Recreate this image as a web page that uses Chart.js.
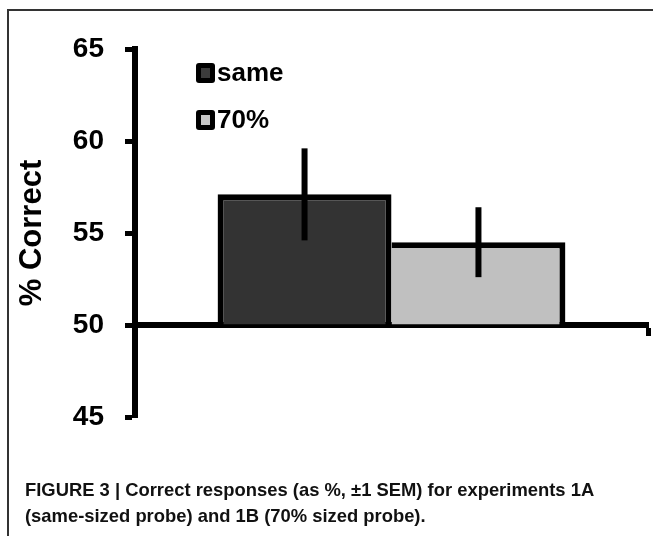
<!DOCTYPE html>
<html>
<head>
<meta charset="utf-8">
<script src="https://cdn.jsdelivr.net/npm/chart.js@4.4.1/dist/chart.umd.min.js"></script>
<style>
  html, body { margin: 0; padding: 0; background: #fff; }
  #wrap { position: relative; width: 653px; height: 536px; overflow: hidden; }
  #frame { position: absolute; left: 7px; top: 9px; right: -10px; bottom: -10px;
           border-left: 2px solid #333; border-top: 2px solid #333; }
  #chartBox { position: absolute; left: 0; top: 0; width: 653px; height: 536px; }
  #caption { position: absolute; left: 25px; top: 477px; white-space: nowrap;
             font-family: "Liberation Sans", Arial, sans-serif;
             font-weight: bold; font-size: 18.4px; line-height: 26px; color: #111; }
</style>
</head>
<body>
<div id="wrap">
  <div id="frame"></div>
  <div id="chartBox"><canvas id="probeChart"></canvas></div>
  <div id="caption">FIGURE 3 | Correct responses (as %, ±1 SEM) for experiments 1A<br>(same-sized probe) and 1B (70% sized probe).</div>
</div>
<script>
// values
const categories = [''];
const seriesLabels = ['same', '70%'];
const sameValues = [57.1];
const sizedValues = [54.5];
const sameSem = [2.5];
const sizedSem = [1.9];
const yTicks = [45, 50, 55, 60, 65];

const semBySeries = [sameSem, sizedSem];
const meanBySeries = [sameValues, sizedValues];

// vertical SEM lines, no caps
const errorBars = {
  id: 'errorBars',
  afterDatasetsDraw(chart) {
    const ctx = chart.ctx;
    const y = chart.scales.y;
    ctx.save();
    ctx.strokeStyle = '#000';
    ctx.lineWidth = 6;
    chart.data.datasets.forEach((ds, i) => {
      chart.getDatasetMeta(i).data.forEach((bar, j) => {
        const m = meanBySeries[i][j], s = semBySeries[i][j];
        ctx.beginPath();
        ctx.moveTo(bar.x, y.getPixelForValue(m + s));
        ctx.lineTo(bar.x, y.getPixelForValue(m - s));
        ctx.stroke();
      });
    });
    ctx.restore();
  }
};

// legend in the upper left of the plot
const boxLegend = {
  id: 'boxLegend',
  afterDraw(chart) {
    const ctx = chart.ctx;
    ctx.save();
    ctx.font = 'bold 26px "Liberation Sans", Arial, sans-serif';
    ctx.textBaseline = 'middle';
    chart.data.datasets.forEach((ds, i) => {
      const cy = 73 + i * 47;
      ctx.fillStyle = '#000';
      ctx.beginPath();
      ctx.roundRect(196, cy - 10, 19, 20, 3);
      ctx.fill();
      ctx.fillStyle = i === 0 ? '#3c3c3c' : '#c8c8c8';
      ctx.fillRect(201, cy - 5, 9, 10);
      ctx.fillStyle = '#000';
      ctx.fillText(ds.label, 217, cy + 1);
    });
    ctx.restore();
  }
};

new Chart(document.getElementById('probeChart'), {
  type: 'bar',
  data: {
    labels: categories,
    datasets: [{
      label: seriesLabels[0],
      data: sameValues,
      base: 50,
      backgroundColor: '#333333',
      borderColor: '#000',
      borderWidth: 6,
      borderSkipped: 'start'
    }, {
      label: seriesLabels[1],
      data: sizedValues,
      base: 50,
      backgroundColor: '#c0c0c0',
      borderColor: '#000',
      borderWidth: { top: 6, right: 6, bottom: 0, left: 0 },
      borderSkipped: 'start'
    }]
  },
  options: {
    responsive: true,
    maintainAspectRatio: false,
    animation: false,
    layout: { padding: { top: 49, right: 5, bottom: 119, left: 0 } },
    categoryPercentage: 0.678,
    barPercentage: 1,
    plugins: { legend: { display: false }, tooltip: { enabled: false } },
    scales: {
      x: {
        position: { y: 50 },
        offset: true,
        ticks: { display: false },
        grid: { drawOnChartArea: false, drawTicks: true, tickLength: 8, tickWidth: 5, tickColor: '#000', offset: true },
        border: { display: true, width: 6, color: '#000' }
      },
      y: {
        min: 45,
        max: 65,
        afterBuildTicks(scale) { scale.ticks = yTicks.map(v => ({ value: v })); },
        afterFit(scale) { scale.width = 135; },
        ticks: {
          color: '#000',
          padding: 21,
          font: { family: '"Liberation Sans", Arial, sans-serif', size: 28, weight: 'bold' }
        },
        grid: { drawOnChartArea: false, drawTicks: true, tickLength: 10, tickWidth: 5, tickColor: '#000' },
        border: { display: true, width: 6, color: '#000' },
        title: {
          display: true,
          text: '% Correct',
          color: '#000',
          padding: { top: 14, bottom: 0 },
          font: { family: '"Liberation Sans", Arial, sans-serif', size: 31, weight: 'bold' }
        }
      }
    }
  },
  plugins: [errorBars, boxLegend]
});
</script>
</body>
</html>
